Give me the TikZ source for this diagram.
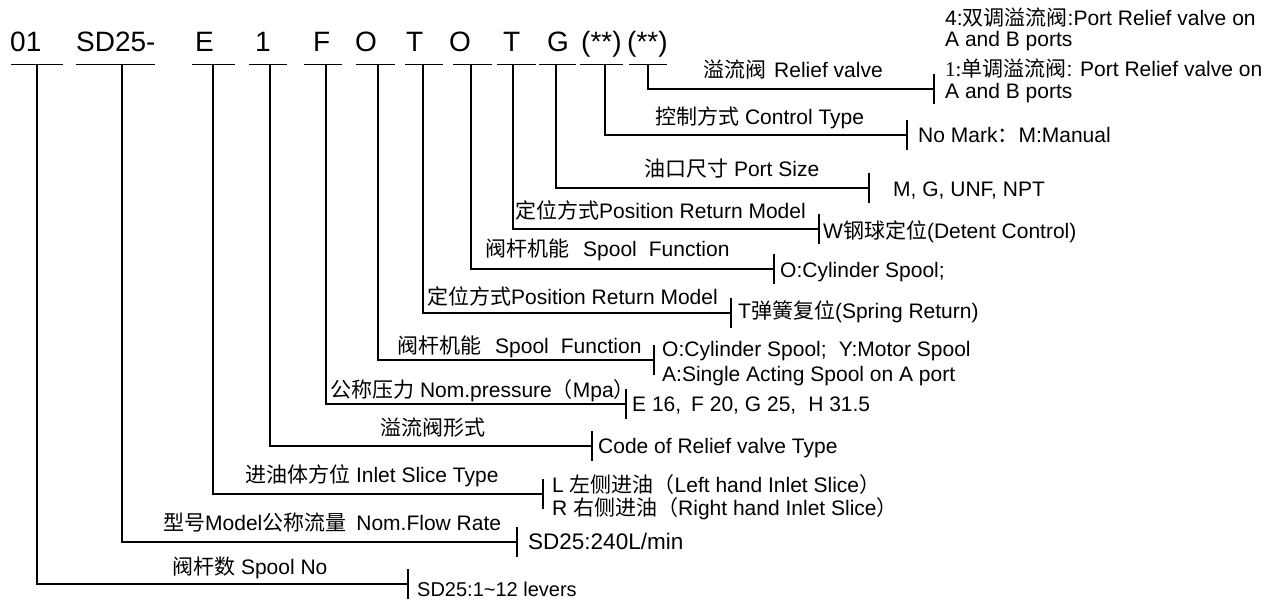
\documentclass[tikz,border=0pt]{standalone}
\usepackage{fontspec}
\setmainfont{Liberation Sans}
\newfontfamily\cjk{Noto Sans CJK SC}
\newfontfamily\sernum{Liberation Serif}
\newcommand{\C}[1]{{\cjk #1}}
\tikzset{
  codetxt/.style={font=\fontsize{28}{30}\selectfont, anchor=base west, inner sep=0pt},
  lbl/.style={font=\fontsize{21}{23}\selectfont, anchor=base west, inner sep=0pt},
  vallbl/.style={font=\fontsize{21}{23}\selectfont, anchor=base west, inner sep=0pt, align=left},
  ln/.style={line width=1.5pt, line cap=butt},
  barln/.style={line width=1.8pt},
}
\begin{document}
\begin{tikzpicture}[x=1pt,y=-1pt]
\useasboundingbox (0,0) rectangle (1274,600);
% code letters
\node[codetxt] (k1)  at (10,51) {01};
\node[codetxt] (k2)  at (76,51) {SD25-};
\node[codetxt] (k3)  at (195,51) {E};
\node[codetxt] (k4)  at (255,51) {1};
\node[codetxt] (k5)  at (313,51) {F};
\node[codetxt] (k6)  at (355,51) {O};
\node[codetxt] (k7)  at (406,51) {T};
\node[codetxt] (k8)  at (449,51) {O};
\node[codetxt] (k9)  at (503,51) {T};
\node[codetxt] (k10) at (547,51) {G};
\node[codetxt] (k11) at (581,51) {(**)};
\node[codetxt] (k12) at (627,51) {(**)};
% underline bars
\draw[barln] (11,64.5) -- (63,64.5);
\draw[barln] (76,64.5) -- (155,64.5);
\draw[barln] (192,64.5) -- (235,64.5);
\draw[barln] (249,64.5) -- (287,64.5);
\draw[barln] (304,64.5) -- (342,64.5);
\draw[barln] (356,64.5) -- (395,64.5);
\draw[barln] (405,64.5) -- (443,64.5);
\draw[barln] (453,64.5) -- (492,64.5);
\draw[barln] (497,64.5) -- (536,64.5);
\draw[barln] (539,64.5) -- (576,64.5);
\draw[barln] (580,64.5) -- (623,64.5);
\draw[barln] (629,64.5) -- (667,64.5);
% bar points
\coordinate (b1) at (37,64.5);
\coordinate (b2) at (122,64.5);
\coordinate (b3) at (213,64.5);
\coordinate (b4) at (270,64.5);
\coordinate (b5) at (326,64.5);
\coordinate (b6) at (378,64.5);
\coordinate (b7) at (423,64.5);
\coordinate (b8) at (471,64.5);
\coordinate (b9) at (513,64.5);
\coordinate (b10) at (556,64.5);
\coordinate (b11) at (605,64.5);
\coordinate (b12) at (648,64.5);
% tick points
\coordinate (t1) at (408,584);
\coordinate (t2) at (517,542);
\coordinate (t3) at (543,494);
\coordinate (t4) at (592,446);
\coordinate (t5) at (626,404);
\coordinate (t6) at (654,360);
\coordinate (t7) at (731,313);
\coordinate (t8) at (774,269);
\coordinate (t9) at (819,229);
\coordinate (t10) at (869,188);
\coordinate (t11) at (907,135);
\coordinate (t12) at (934,89);
% connectors
\foreach \i in {1,...,12}{
  \draw[ln] (b\i) |- (t\i);
  \draw[ln] ([yshift=-15pt]t\i) -- ([yshift=15pt]t\i);
}
% labels above lines
\node[lbl] (l1) at (172,574) {\C{阀杆数} Spool No};
\node[lbl] (l2) at (163,530) {\C{型号}Model\C{公称流量}\hspace{10pt}Nom.Flow Rate};
\node[lbl] (l3) at (245,482) {\C{进油体方位} Inlet Slice Type};
\node[lbl] (l4) at (380,435) {\C{溢流阀形式}};
\node[lbl] (l5) at (330,397) {\C{公称压力} Nom.pressure\C{（}Mpa\C{）}};
\node[lbl] (l6) at (397,353) {\C{阀杆机能}\hspace{14pt}Spool\hspace{12pt}Function};
\node[lbl] (l7) at (427,304) {\C{定位方式}Position Return Model};
\node[lbl] (l8) at (485,256) {\C{阀杆机能}\hspace{14pt}Spool\hspace{12pt}Function};
\node[lbl] (l9) at (515,218) {\C{定位方式}Position Return Model};
\node[lbl] (l10) at (644,176) {\C{油口尺寸} Port Size};
\node[lbl] (l11) at (655,124) {\C{控制方式} Control Type};
\node[lbl] (l12) at (703,77) {\C{溢流阀}\hspace{8pt}Relief valve};
% values
\node[vallbl, font=\fontsize{20}{22}\selectfont] (v1) at (417,596) {SD25:1\textasciitilde12 levers};
\node[vallbl, font=\fontsize{22.5}{24}\selectfont] (v2) at (528,549) {SD25:240L/min};
\node[vallbl] (v3a) at (552,492) {L \C{左侧进油（}Left hand Inlet Slice\C{）}};
\node[vallbl] (v3b) at (552,515) {R \C{右侧进油（}Right hand Inlet Slice\C{）}};
\node[vallbl] (v4) at (598,453) {Code of Relief valve Type};
\node[vallbl] (v5) at (632,411) {E 16,\hspace{10pt}F 20, G 25,\hspace{12pt}H 31.5};
\node[vallbl] (v6a) at (662,356) {O:Cylinder Spool;\hspace{12pt}Y:Motor Spool};
\node[vallbl] (v6b) at (662,381) {A:Single Acting Spool on A port};
\node[vallbl] (v7) at (738,318) {T\C{弹簧复位}(Spring Return)};
\node[vallbl] (v8) at (780,277) {O:Cylinder Spool;};
\node[vallbl] (v9) at (823,238) {W\C{钢球定位}(Detent Control)};
\node[vallbl] (v10) at (893,196) {M, G, UNF, NPT};
\node[vallbl] (v11) at (918,142) {No Mark\C{：}M:Manual};
\node[vallbl] (v12a) at (945,25) {4:\C{双调溢流阀}:Port Relief valve on};
\node[vallbl] (v12b) at (945,46) {A and B ports};
\node[vallbl] (v12c) at (945,76) {{\sernum 1:}\C{单调溢流阀}: Port Relief valve on};
\node[vallbl] (v12d) at (945,98) {A and B ports};
\end{tikzpicture}
\end{document}
